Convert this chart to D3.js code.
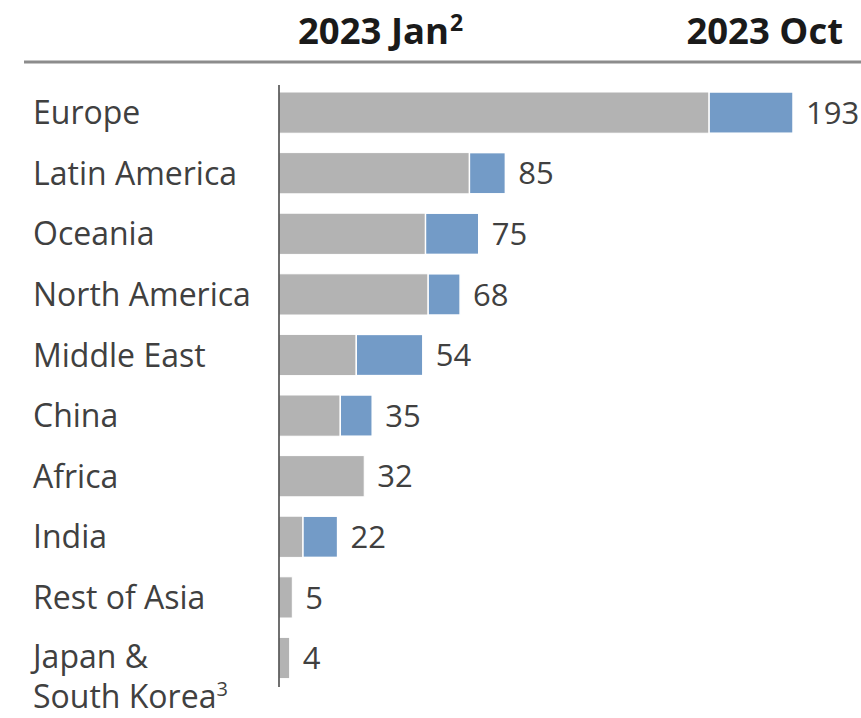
<!DOCTYPE html>
<html>
<head>
<meta charset="utf-8">
<script src="https://cdn.jsdelivr.net/npm/d3@7"></script>
<style>
  html, body { margin: 0; padding: 0; background: #fff; }
  svg { display: block; }
  text { font-family: "Open Sans", "Noto Sans", sans-serif; }
</style>
</head>
<body>
<svg id="chart" width="861" height="718"></svg>
<script>
// Regions and their capacity values (Jan baseline, Oct total)
const regions = ["Europe", "Latin America", "Oceania", "North America", "Middle East",
                 "China", "Africa", "India", "Rest of Asia", "Japan & South Korea"];
const janValues = [161.5, 71.5, 55, 56, 29, 23, 32, 9, 5, 4];
const octValues = [193, 85, 75, 68, 54, 35, 32, 22, 5, 4];
const columnTitles = ["2023 Jan", "2023 Oct"];

const svg = d3.select("#chart");
const textColor = "#404040";
const greyFill = "#b3b3b3";
const blueFill = "#739bc7";

const x = d3.scaleLinear().domain([0, 193]).range([279, 793]);
const y = d3.scaleBand().domain(regions).range([92, 678.6]).paddingInner(0.32).paddingOuter(0);

// Column headers
const h1 = svg.append("text").attr("x", 298).attr("y", 44)
  .attr("text-anchor", "start").attr("font-size", 36.5).attr("font-weight", 700)
  .attr("fill", "#1a1a1a");
h1.append("tspan").text(columnTitles[0]);
h1.append("tspan").attr("font-size", 23).attr("dy", -13).attr("dx", 1).text("2");

svg.append("text").attr("x", 843).attr("y", 44)
  .attr("text-anchor", "end").attr("font-size", 36.5).attr("font-weight", 700)
  .attr("fill", "#1a1a1a").text(columnTitles[1]);

// Header rule
svg.append("line").attr("x1", 24).attr("x2", 861).attr("y1", 62).attr("y2", 62)
  .attr("stroke", "#8c8c8c").attr("stroke-width", 3);

// Bars: Jan baseline in grey, growth to Oct in blue
const rows = svg.append("g").selectAll("g").data(regions).join("g");

rows.append("rect")
  .attr("x", x(0))
  .attr("y", d => y(d))
  .attr("width", (d, i) => x(janValues[i]) - x(0))
  .attr("height", y.bandwidth())
  .attr("fill", greyFill)
  .attr("stroke", "#fff").attr("stroke-width", 1);

rows.filter((d, i) => octValues[i] > janValues[i]).append("rect")
  .attr("x", d => x(janValues[regions.indexOf(d)]))
  .attr("y", d => y(d))
  .attr("width", d => { const i = regions.indexOf(d); return x(octValues[i]) - x(janValues[i]); })
  .attr("height", y.bandwidth())
  .attr("fill", blueFill)
  .attr("stroke", "#fff").attr("stroke-width", 1.5);

// Value labels
rows.append("text")
  .attr("x", (d, i) => x(octValues[i]) + 13)
  .attr("y", d => y(d) + y.bandwidth() / 2)
  .attr("dy", "0.36em")
  .attr("font-size", 31)
  .attr("fill", textColor)
  .text((d, i) => octValues[i]);

// Category labels (the last one wraps onto two lines)
rows.each(function(d) {
  const g = d3.select(this);
  const cy = y(d) + y.bandwidth() / 2;
  if (d === "Japan & South Korea") {
    g.append("text").attr("x", 33).attr("y", cy - 2).attr("dy", "0.36em")
      .attr("font-size", 32).attr("fill", textColor).text("Japan &");
    const t2 = g.append("text").attr("x", 33).attr("y", cy + 38).attr("dy", "0.36em")
      .attr("font-size", 32).attr("fill", textColor);
    t2.append("tspan").text("South Korea");
    t2.append("tspan").attr("font-size", 20).attr("dy", -12).text("3");
  } else {
    g.append("text").attr("x", 33).attr("y", cy).attr("dy", "0.36em")
      .attr("font-size", 32).attr("fill", textColor).text(d);
  }
});

// Category axis line
svg.append("line").attr("x1", x(0)).attr("x2", x(0)).attr("y1", 85).attr("y2", 687)
  .attr("stroke", "#404040").attr("stroke-width", 1.5);
</script>
</body>
</html>
